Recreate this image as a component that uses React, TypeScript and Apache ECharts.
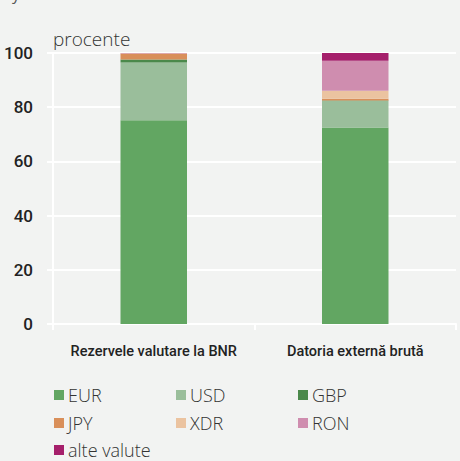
import React, { useEffect, useRef } from "react";
import * as echarts from "echarts";

const categories = ["Rezervele valutare la BNR", "Datoria externă brută"];
const seriesNames = ["EUR", "USD", "GBP", "JPY", "XDR", "RON", "alte valute"];
const EUR = [75.2, 72.5];
const USD = [21.3, 9.8];
const GBP = [1.1, 0.2];
const JPY = [2.2, 0.6];
const XDR = [0.0, 3.0];
const RON = [0.2, 11.0];
const ALTE = [0.0, 2.9];
const yTicks = [0, 20, 40, 60, 80, 100];

const colors = ["#62a662", "#9abe9b", "#4b894b", "#d98f5a", "#ebc3a0", "#cf8daf", "#a51f6b"];

const FONT = "Roboto, 'Liberation Sans', sans-serif";
const LFONT = "'Open Sans', 'Noto Sans', sans-serif";

export default function App() {
  const ref = useRef<HTMLDivElement>(null);
  useEffect(() => {
    if (!ref.current) return;
    const chart = echarts.init(ref.current, null, { renderer: "svg" });
    const data = [EUR, USD, GBP, JPY, XDR, RON, ALTE];
    const legendPos = [
      [54, 386], [176, 386], [298, 386],
      [54, 414], [176, 414], [298, 414],
      [54, 441],
    ];
    chart.setOption({
      animation: false,
      backgroundColor: "#f2f3f2",
      color: colors,
      grid: { left: 53, right: 4, top: 53, bottom: 137, containLabel: false },
      graphic: [
        {
          type: "text",
          left: 53,
          top: 29,
          style: { text: "procente", font: `300 19px ${LFONT}`, fill: "#333" },
        },
        {
          type: "text",
          left: 12,
          top: -14,
          style: { text: "y", font: `16px ${LFONT}`, fill: "#555" },
        },
      ],
      legend: seriesNames.map((n, i) => ({
        data: [n],
        left: legendPos[i][0],
        top: legendPos[i][1],
        itemWidth: 10,
        itemHeight: 10,
        itemGap: 6,
        icon: "rect",
        padding: 0,
        textStyle: { fontFamily: LFONT, fontSize: 18, fontWeight: 300, color: "#333", padding: [0, 0, 0, -1] },
      })),
      xAxis: {
        type: "category",
        data: categories,
        axisLine: { show: true, lineStyle: { color: "#ffffff", width: 2 } },
        axisTick: { show: true, length: 6, lineStyle: { color: "#ffffff", width: 2 } },
        axisLabel: {
          interval: 0,
          margin: 20,
          fontFamily: FONT,
          fontSize: 14.5,
          fontWeight: 500,
          color: "#222",
        },
      },
      yAxis: {
        type: "value",
        min: 0,
        max: 100,
        interval: 20,
        axisLine: { show: true, lineStyle: { color: "#ffffff", width: 2 } },
        axisTick: { show: true, length: 6, lineStyle: { color: "#ffffff", width: 2 } },
        splitLine: { show: true, lineStyle: { color: "#ffffff", width: 2 } },
        axisLabel: {
          margin: 20,
          fontFamily: FONT,
          fontSize: 17,
          fontWeight: 500,
          color: "#222",
          formatter: (v: number) => (yTicks.includes(v) ? String(v) : ""),
        },
      },
      series: seriesNames.map((n, i) => ({
        name: n,
        type: "bar",
        stack: "total",
        barWidth: "33%",
        data: data[i],
        itemStyle: { color: colors[i] },
      })),
    });
    return () => chart.dispose();
  }, []);
  return (
    <div
      ref={ref}
      style={{ position: "fixed", left: 0, top: 0, width: 460, height: 461 }}
    />
  );
}
